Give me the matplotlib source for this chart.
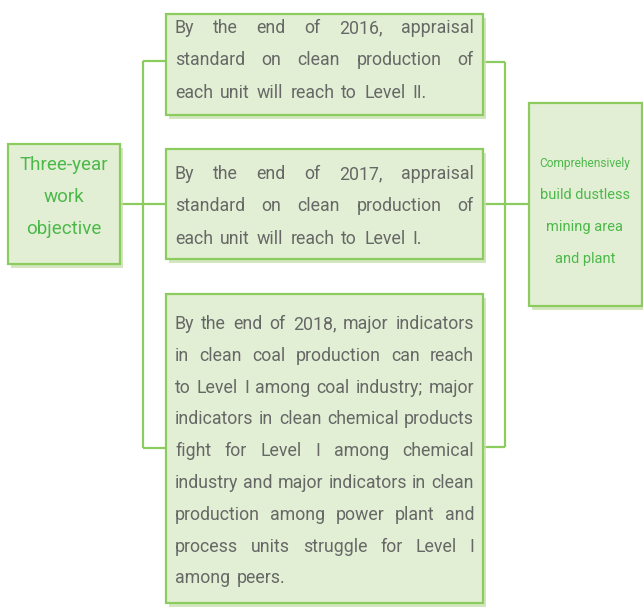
import matplotlib
matplotlib.use("Agg")
import matplotlib.pyplot as plt
from matplotlib.patches import Rectangle

W, H = 643, 607

# text content
left_lines = ["Three-year", "work", "objective"]
right_lines = ["Comprehensively", "build dustless", "mining area", "and plant"]
right_sizes = [8.6, 10.5, 10.5, 10.5]
box1_lines = ["By the end of 2016, appraisal",
              "standard on clean production of",
              "each unit will reach to Level II."]
box2_lines = ["By the end of 2017, appraisal",
              "standard on clean production of",
              "each unit will reach to Level I."]
box3_lines = ["By the end of 2018, major indicators",
              "in clean coal production can reach",
              "to Level I among coal industry; major",
              "indicators in clean chemical products",
              "fight for Level I among chemical",
              "industry and major indicators in clean",
              "production among power plant and",
              "process units struggle for Level I",
              "among peers."]

FILL = "#e3efd5"
EDGE = "#8ccb5e"
SHADOW = "#c9e0b0"
GREEN_TXT = "#4cb84a"
GRAY_TXT = "#666866"
FONT = "Roboto"

fig = plt.figure(figsize=(W / 100, H / 100), dpi=100)
ax = fig.add_axes([0, 0, 1, 1])
ax.set_xlim(0, W)
ax.set_ylim(H, 0)
ax.axis("off")
renderer = fig.canvas.get_renderer()


def box(x0, y0, x1, y1):
    ax.add_patch(Rectangle((x0 + 3, y0 + 4), x1 - x0, y1 - y0, facecolor=SHADOW,
                           edgecolor="none", alpha=0.8, zorder=1))
    ax.add_patch(Rectangle((x0, y0), x1 - x0, y1 - y0, facecolor=FILL,
                           edgecolor=EDGE, linewidth=1.6, zorder=2))


def line(xs, ys):
    ax.plot(xs, ys, color=EDGE, linewidth=1.6, zorder=0, solid_capstyle="butt")


def width_of(s, size):
    t = ax.text(0, 0, s, fontsize=size, family=FONT)
    w = t.get_window_extent(renderer).width
    t.remove()
    return w


def fit_size(lines, avail, start=15.0):
    size = start
    while size > 8:
        ok = True
        for ln in lines:
            words = ln.split(" ")
            if sum(width_of(w, size) for w in words) + 4.5 * (len(words) - 1) > avail:
                ok = False
                break
        if ok:
            return size
        size -= 0.25
    return size


def justified(lines, x0, x1, y0, dy, size):
    sp = width_of("a a", size) - width_of("aa", size)
    for i, ln in enumerate(lines):
        y = y0 + i * dy
        words = ln.split(" ")
        last = i == len(lines) - 1
        widths = [width_of(w, size) for w in words]
        if last or len(words) == 1:
            gap = sp * 1.6
        else:
            gap = (x1 - x0 - sum(widths)) / (len(words) - 1)
        x = x0
        for w, wd in zip(words, widths):
            ax.text(x, y, w, fontsize=size, family=FONT, color=GRAY_TXT,
                    va="center", ha="left", zorder=3)
            x += wd + gap


# connectors
line([120, 166], [204, 204])
line([143, 143], [61, 448])
line([143, 166], [61, 61])
line([143, 166], [448, 448])
line([483, 505], [62, 62])
line([483, 529], [204, 204])
line([483, 505], [447, 447])
line([505, 505], [62, 447])

# boxes
box(8, 144, 120, 264)
box(166, 14, 483, 115)
box(166, 149, 483, 259)
box(166, 294, 483, 603)
box(529, 103, 642, 306)

for i, t in enumerate(left_lines):
    ax.text(64, 165 + i * 32, t, fontsize=13.5, family=FONT,
            color=GREEN_TXT, ha="center", va="center", zorder=3)

for i, t in enumerate(right_lines):
    ax.text(585, 163 + i * 32, t, fontsize=right_sizes[i], family=FONT,
            color=GREEN_TXT, ha="center", va="center", zorder=3)

size = fit_size(box1_lines + box2_lines + box3_lines, 474 - 175)
justified(box1_lines, 175, 474, 28, 32.3, size)
justified(box2_lines, 175, 474, 174, 32.3, size)
justified(box3_lines, 175, 474, 324, 31.8, size)

fig.savefig("out.png", dpi=100)
